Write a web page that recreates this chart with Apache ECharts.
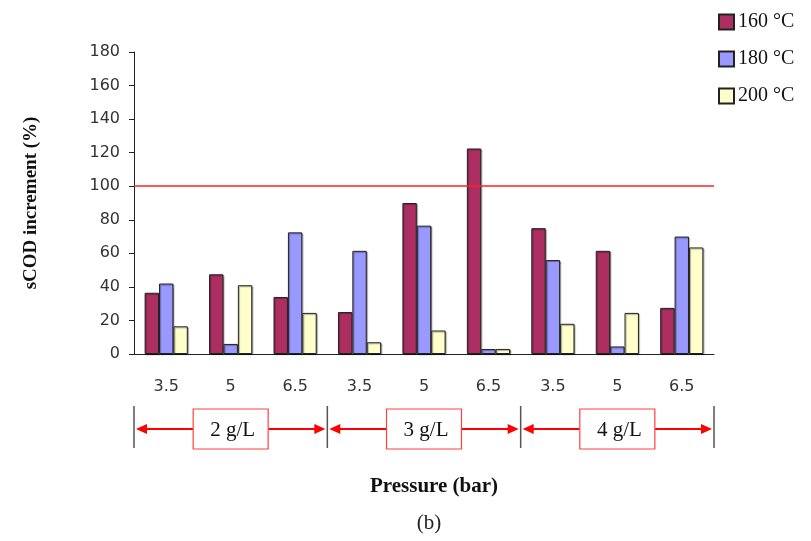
<!DOCTYPE html>
<html><head><meta charset="utf-8">
<script src="https://cdn.jsdelivr.net/npm/echarts@6/dist/echarts.min.js"></script>
<style>html,body{margin:0;padding:0;background:#fff}#c{width:811px;height:541px}</style>
</head><body><div id="c"></div>
<script>
const categories = ['3.5','5','6.5','3.5','5','6.5','3.5','5','6.5'];
const s160 = [36.5, 47.5, 34, 25, 90, 122.5, 75, 61.5, 27.5];
const s180 = [42, 6, 72.5, 61.5, 76.5, 3, 56, 4.5, 70];
const s200 = [16.5, 41, 24.5, 7, 14, 3, 18, 24.5, 63.5];
const seriesNames = ['160 °C','180 °C','200 °C'];
const groupLabels = ['2 g/L','3 g/L','4 g/L'];
const refValue = 100;

const colors = ['#AD2F62','#9999FF','#FFFFCC'];
const chart = echarts.init(document.getElementById('c'));
const mk = (name, data, i) => ({
  name, type:'bar', data, barGap:'0%', barCategoryGap:'33%',
  itemStyle:{color:colors[i], borderColor:'#222', borderWidth:1,
    shadowColor:'rgba(0,0,0,0.35)', shadowOffsetX:1, shadowOffsetY:1, shadowBlur:1},
  emphasis:{disabled:true}, silent:true
});
const series = [mk(seriesNames[0], s160, 0), mk(seriesNames[1], s180, 1), mk(seriesNames[2], s200, 2)];
series[0].markLine = {silent:true, symbol:'none', label:{show:false},
  lineStyle:{color:'#FF2020', width:1.5, type:'solid'}, data:[{yAxis:refValue}]};

chart.setOption({
  animation:false,
  backgroundColor:'#fff',
  grid:{left:134, right:97, top:52, bottom:187},
  legend:{orient:'vertical', left:713, top:7, itemWidth:15, itemHeight:15, itemGap:17,
    icon:'rect',
    textStyle:{fontFamily:'Liberation Serif', fontSize:20, color:'#111', padding:[0,0,0,-1]},
    data:seriesNames},
  xAxis:{type:'category', data:categories,
    axisLine:{lineStyle:{color:'#222', width:1}},
    axisTick:{length:6, lineStyle:{color:'#222'}},
    axisLabel:{fontFamily:'DejaVu Sans', fontSize:16, color:'#333', margin:25}},
  yAxis:{type:'value', min:0, max:180, interval:20,
    name:'sCOD increment (%)', nameLocation:'middle', nameGap:93, nameRotate:90,
    nameTextStyle:{fontFamily:'Liberation Serif', fontSize:19, fontWeight:'bold', color:'#111'},
    splitLine:{show:false},
    axisLine:{show:true, lineStyle:{color:'#222', width:1}},
    axisTick:{show:true, length:5, lineStyle:{color:'#222'}},
    axisLabel:{fontFamily:'DejaVu Sans', fontSize:16, color:'#333', margin:14}},
  series
});

// Decorations tied to the axis positions
const px = i => chart.convertToPixel({xAxisIndex:0}, i);
const step = px(1) - px(0);
const bounds = [px(0)-step/2, px(3)-step/2, px(6)-step/2, px(8)+step/2];
const gTop = 406, gBot = 448, arrowY = 429, boxW = 75, boxH = 40, boxY = 409;
const els = [];
bounds.forEach(b => els.push({type:'line', shape:{x1:b, y1:gTop, x2:b, y2:gBot},
  style:{stroke:'#555', lineWidth:1.5}}));
for (let g = 0; g < 3; g++) {
  const l = bounds[g] + 2, r = bounds[g+1] - 2, c = (bounds[g] + bounds[g+1]) / 2;
  els.push({type:'line', shape:{x1:l+8, y1:arrowY, x2:c-boxW/2, y2:arrowY}, style:{stroke:'#FF0000', lineWidth:2}});
  els.push({type:'line', shape:{x1:c+boxW/2, y1:arrowY, x2:r-8, y2:arrowY}, style:{stroke:'#FF0000', lineWidth:2}});
  els.push({type:'polygon', shape:{points:[[l,arrowY],[l+11,arrowY-5],[l+11,arrowY+5]]}, style:{fill:'#FF0000'}});
  els.push({type:'polygon', shape:{points:[[r,arrowY],[r-11,arrowY-5],[r-11,arrowY+5]]}, style:{fill:'#FF0000'}});
  els.push({type:'rect', shape:{x:c-boxW/2, y:boxY, width:boxW, height:boxH},
    style:{fill:'#fff', stroke:'#FF4040', lineWidth:1.2}});
  els.push({type:'text', x:c+2, y:boxY+boxH/2+1, style:{text:groupLabels[g], fontFamily:'Liberation Serif',
    fontSize:21, fill:'#111', align:'center', verticalAlign:'middle'}});
}
const mid = (bounds[0] + bounds[3]) / 2;
els.push({type:'text', x:mid+10, y:487, style:{text:'Pressure (bar)', fontFamily:'Liberation Serif',
  fontSize:21, fontWeight:'bold', fill:'#111', align:'center', verticalAlign:'middle'}});
els.push({type:'text', x:mid+5, y:523, style:{text:'(b)', fontFamily:'Liberation Serif',
  fontSize:21, fill:'#222', align:'center', verticalAlign:'middle'}});
chart.setOption({graphic:{elements:els}});
</script>
</body></html>
